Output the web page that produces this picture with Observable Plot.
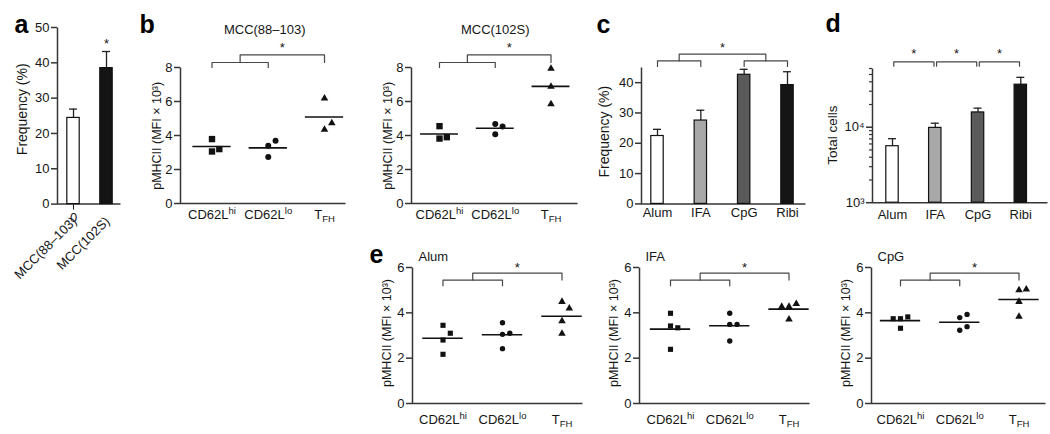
<!DOCTYPE html>
<html><head><meta charset="utf-8">
<script src="https://cdn.jsdelivr.net/npm/d3@7"></script>
<script src="https://cdn.jsdelivr.net/npm/@observablehq/plot@0.6"></script>
<style>
html,body{margin:0;padding:0;background:#fff;}
#fig{position:relative;width:1050px;height:434px;overflow:hidden;background:#fff;}
</style></head><body><div id="fig"></div>
<script>
// ---------------- DATA ----------------
const aCats = ["MCC(88–103)", "MCC(102S)"];
const aFreq = [24.4, 38.5];
const aErr  = [26.9, 43.2];
const aSig  = ["MCC(102S)"];
const aTicks = [0, 10, 20, 30, 40, 50];

const subsets = ["CD62L^hi", "CD62L^lo", "T_FH"];
const bTitles = ["MCC(88–103)", "MCC(102S)"];
const b1Hi  = [3.79, 3.06, 3.20];
const b1Lo  = [3.39, 2.74, 3.69];
const b1Tfh = [6.18, 4.35, 4.73];
const b2Hi  = [4.55, 3.82, 3.90];
const b2Lo  = [4.67, 4.08, 4.53];
const b2Tfh = [7.94, 6.88, 5.85];
const bTicks = [0, 2, 4, 6, 8];

const adjuvants = ["Alum", "IFA", "CpG", "Ribi"];
const cFreq = [22.4, 27.5, 42.6, 39.2];
const cErr  = [24.6, 30.9, 44.4, 43.6];
const cTicks = [0, 10, 20, 30, 40];
const dCells = [5600, 9800, 15700, 36600];
const dErr   = [7050, 11300, 17900, 45800];
const dMajor = [1000, 10000];
const dMinor = [2000, 3000, 4000, 5000, 6000, 7000, 8000, 9000, 20000, 30000, 40000, 50000, 60000];

const eTitles = ["Alum", "IFA", "CpG"];
const e1Hi  = [3.45, 3.10, 2.80, 2.17];
const e1Lo  = [3.56, 3.05, 2.42, 3.10];
const e1Tfh = [4.49, 4.20, 3.64, 3.08];
const e2Hi  = [3.98, 3.42, 3.34, 2.39];
const e2Lo  = [3.98, 3.49, 3.49, 2.76];
const e2Tfh = [4.27, 4.40, 4.27, 3.71];
const e3Hi  = [3.74, 3.82, 3.74, 3.32];
const e3Lo  = [3.79, 3.93, 3.23, 3.39];
const e3Tfh = [5.00, 5.04, 4.49, 3.83];
const eTicks = [0, 2, 4, 6];

// ---------------- STYLE / LAYOUT ----------------
const FONT = '"Liberation Sans", Arial, Helvetica, sans-serif';
const INK = "#161616", AXIS = "#363636", BRK = "#474747";
const aFills = ["#ffffff", "#141414"];
const adjFills = ["#ffffff", "#a8a8a8", "#5a5a5a", "#151515"];
const LAYOUT = {
  a:  {L: 57,  R: 120,  T: 26.7,  B: 203.3, centers: [73, 106]},
  b1: {L: 180, R: 345,  T: 66.7,  B: 202.7, centers: [211.5, 267.5, 324]},
  b2: {L: 411, R: 577,  T: 66.7,  B: 202.7, centers: [439, 495, 550.5]},
  c:  {L: 641, R: 805,  T: 66.6,  B: 203,   centers: [657, 700.5, 743.5, 787]},
  d:  {L: 872, R: 1047, T: 68.3,  B: 202.5, centers: [892, 935.3, 978.3, 1020.3]},
  e1: {L: 412, R: 582,  T: 266.7, B: 402.7, centers: [442.5, 501.7, 561.5]},
  e2: {L: 639, R: 809,  T: 266.7, B: 402.7, centers: [670, 729.5, 788.5]},
  e3: {L: 871, R: 1045, T: 266.7, B: 402.7, centers: [900, 959, 1018.5]}
};
const ML = 80, MR = 20, MT = 80, MB = 100;
const fig = document.getElementById("fig");

function richText(svg) {
  d3.select(svg).selectAll("text").each(function () {
    if (this.querySelector("tspan")) return;
    const s = this.textContent;
    const m = s.match(/^([^\^_]*)([\^_])(.+)$/);
    if (!m) return;
    const t = d3.select(this);
    t.text(null);
    t.append("tspan").text(m[1]);
    t.append("tspan").attr("dy", m[2] === "^" ? -5 : 3.5).attr("font-size", "9.5px").text(m[3]);
  });
}

function build(lay, yScale, marks) {
  const W = lay.R - lay.L, H = lay.B - lay.T;
  const sx = lay.L - ML, sy = lay.T - MT;
  const n = lay.centers.length;
  const svg = Plot.plot({
    width: ML + W + MR, height: MT + H + MB,
    marginLeft: ML, marginRight: MR, marginTop: MT, marginBottom: MB,
    x: {type: "linear", domain: [0, n - 1], range: [lay.centers[0] - sx, lay.centers[n - 1] - sx]},
    y: yScale,
    color: {type: "identity"},
    style: {background: "transparent", overflow: "visible", fontFamily: FONT, fontSize: "13px", color: INK},
    marks: [
      Plot.frame({stroke: AXIS, strokeWidth: 1.5, strokeDasharray: `0 ${W + H} ${W + H}`}),
      ...marks
    ]
  });
  richText(svg);
  svg.style.position = "absolute";
  svg.style.left = sx + "px";
  svg.style.top = sy + "px";
  svg.style.maxWidth = "none";
  fig.appendChild(svg);
}

function levelFn(lay, domain, log) {
  const H = lay.B - lay.T;
  if (log) {
    const l0 = Math.log10(domain[0]), l1 = Math.log10(domain[1]);
    return px => Math.pow(10, l1 + px * (l1 - l0) / H);
  }
  return px => domain[1] + px * (domain[1] - domain[0]) / H;
}
const stepOf = lay => (lay.centers[lay.centers.length - 1] - lay.centers[0]) / (lay.centers.length - 1);

const yAxis = (ticks, fmt) => Plot.axisY(ticks, {tickSize: 6, tickPadding: 2, label: null, stroke: AXIS, strokeWidth: 1.5, fill: INK, fontSize: 13, ...(fmt ? {tickFormat: fmt} : {})});
const xAxis = (cats, pad) => Plot.axisX(d3.range(cats.length), {tickSize: 0, tickPadding: pad, label: null, fill: INK, fontSize: 13, tickFormat: i => cats[i]});
const yLabel = (s, dx, dy, fs = 13) => Plot.text([s], {text: d => d, frameAnchor: "left", textAnchor: "middle", lineAnchor: "middle", rotate: -90, dx, dy, fill: INK, fontSize: fs});
const letter = (s, dx, dy) => Plot.text([s], {text: d => d, frameAnchor: "top-left", textAnchor: "start", lineAnchor: "bottom", dx, dy, fill: "#000", fontSize: 25, fontWeight: "bold"});
const title = (s, o) => Plot.text([s], {text: d => d, lineAnchor: "bottom", fill: INK, fontSize: 13, ...o});

function barMarks(vals, errs, fills, lay, yMin, barPx) {
  const step = stepOf(lay);
  const hw = barPx / 2 / step, cw = 4 / step;
  const idx = d3.range(vals.length);
  return [
    Plot.ruleX(idx, {x: i => i, y1: i => vals[i], y2: i => errs[i], stroke: "#222", strokeWidth: 1.3}),
    Plot.ruleY(idx, {y: i => errs[i], x1: i => i - cw, x2: i => i + cw, stroke: "#222", strokeWidth: 1.3}),
    Plot.rectY(idx, {x1: i => i - hw, x2: i => i + hw, y1: yMin, y2: i => vals[i], fill: i => fills[i], stroke: "#111", strokeWidth: 1.2})
  ];
}

function scatterMarks(groups, lay, domain, sizes) {
  const step = stepOf(lay);
  const H = lay.B - lay.T;
  const upp = (domain[1] - domain[0]) / H;
  const jit = 7.3 / step, thr = 8.5 * upp;
  const syms = ["square", "circle", "triangle"];
  const marks = [];
  groups.forEach((vals, k) => {
    const placed = [];
    const pts = vals.map(v => {
      let off = 0;
      for (const o of [0, 1, -1, 2, -2]) {
        if (!placed.some(p => p.o === o && Math.abs(p.v - v) < thr)) { off = o; break; }
      }
      placed.push({v, o: off});
      return {x: k + off * jit, y: v};
    });
    marks.push(Plot.ruleY([d3.mean(vals)], {y: d => d, x1: k - 0.34, x2: k + 0.34, stroke: "#111", strokeWidth: 1.6}));
    marks.push(Plot.dot(pts, {x: "x", y: "y", symbol: syms[k], r: sizes[k], fill: "#111", stroke: "none"}));
  });
  return marks;
}

function bracketMarks(segs, stars) {
  const pts = segs.flatMap((s, g) => s.map(([x, y]) => ({x, y, g})));
  return [
    Plot.line(pts, {x: "x", y: "y", z: "g", stroke: BRK, strokeWidth: 1.2}),
    Plot.text(stars, {x: "x", y: "y", text: () => "*", fill: INK, fontSize: 13})
  ];
}
function twoVsOne(lvl, P) {
  const [L0, L1, L2, S] = P.map(lvl);
  return bracketMarks([
    [[0, L0], [0, L1], [1, L1], [1, L0]],
    [[0.5, L1], [0.5, L2], [2, L2], [2, L1]]
  ], [{x: 1.25, y: S}]);
}

// ---------------- PANEL a ----------------
{
  const lay = LAYOUT.a, dom = [0, 50];
  const upp = (dom[1] - dom[0]) / (lay.B - lay.T);
  const sigIdx = d3.range(aCats.length).filter(i => aSig.includes(aCats[i]));
  build(lay, {domain: dom}, [
    yAxis(aTicks),
    ...barMarks(aFreq, aErr, aFills, lay, 0, 12.4),
    Plot.text(d3.range(aCats.length), {x: i => i, text: i => aCats[i], frameAnchor: "bottom", rotate: -45, textAnchor: "end", lineAnchor: "bottom", dx: 4, dy: 18, fill: INK, fontSize: 13}),
    Plot.text(sigIdx, {x: i => i, y: i => aErr[i] + 7.4 * upp, text: () => "*", fill: INK, fontSize: 13}),
    yLabel("Frequency (%)", -34.5, -6.5, 14),
    letter("a", -43, 5.3)
  ]);
}

// ---------------- PANEL b ----------------
[[LAYOUT.b1, [b1Hi, b1Lo, b1Tfh], bTitles[0], true], [LAYOUT.b2, [b2Hi, b2Lo, b2Tfh], bTitles[1], false]].forEach(([lay, groups, ttl, first]) => {
  const dom = [0, 8];
  const lvl = levelFn(lay, dom, false);
  const W = lay.R - lay.L;
  build(lay, {domain: dom}, [
    yAxis(bTicks),
    xAxis(subsets, 6),
    ...scatterMarks(groups, lay, dom, [3.6, 3.0, 2.8]),
    ...twoVsOne(lvl, [0, 5, 12.7, 19.4]),
    yLabel("pMHCII (MFI × 10³)", -23.5, 0.3, 12.5),
    title(ttl, {frameAnchor: "top", dx: (lay.centers[0] + lay.centers[2]) / 2 - (lay.L + W / 2) + (first ? -3.5 : 0), dy: -33.7}),
    ...(first ? [letter("b", -41, -34.7)] : [])
  ]);
});

// ---------------- PANEL c ----------------
{
  const lay = LAYOUT.c, dom = [0, 45];
  const lvl = levelFn(lay, dom, false);
  const [L0, L1, L2, S] = [1, 6.6, 13.3, 20].map(lvl);
  build(lay, {domain: dom}, [
    yAxis(cTicks),
    xAxis(adjuvants, 4),
    ...barMarks(cFreq, cErr, adjFills, lay, 0, 12.4),
    ...bracketMarks([
      [[0, L0], [0, L1], [1, L1], [1, L0]],
      [[2, L0], [2, L1], [3, L1], [3, L0]],
      [[0.5, L1], [0.5, L2], [2.5, L2], [2.5, L1]]
    ], [{x: 1.5, y: S}]),
    yLabel("Frequency (%)", -37, -4, 14),
    letter("c", -45, -34.6)
  ]);
}

// ---------------- PANEL d ----------------
{
  const lay = LAYOUT.d, dom = [1000, 60000];
  const lvl = levelFn(lay, dom, true);
  const [L0, L1, S] = [2.3, 6.6, 15].map(lvl);
  const segs = [], stars = [];
  for (let i = 0; i < adjuvants.length - 1; i++) {
    segs.push([[i + 0.03, L0], [i + 0.03, L1], [i + 0.97, L1], [i + 0.97, L0]]);
    stars.push({x: i + 0.5, y: S});
  }
  const sup = {1000: "10³", 10000: "10⁴"};
  build(lay, {type: "log", domain: dom}, [
    Plot.axisY(dMinor, {tickSize: 3, tickPadding: 2, label: null, stroke: AXIS, strokeWidth: 1.2, tickFormat: () => ""}),
    yAxis(dMajor, d => sup[d]),
    xAxis(adjuvants, 7),
    ...barMarks(dCells, dErr, adjFills, lay, 1000, 12.4),
    ...bracketMarks(segs, stars),
    yLabel("Total cells", -39.5, -0.4, 13.5),
    letter("d", -47, -36.3)
  ]);
}

// ---------------- PANEL e ----------------
[[LAYOUT.e1, [e1Hi, e1Lo, e1Tfh], eTitles[0], true], [LAYOUT.e2, [e2Hi, e2Lo, e2Tfh], eTitles[1], false], [LAYOUT.e3, [e3Hi, e3Lo, e3Tfh], eTitles[2], false]].forEach(([lay, groups, ttl, first]) => {
  const dom = [0, 6];
  const lvl = levelFn(lay, dom, false);
  build(lay, {domain: dom}, [
    yAxis(eTicks),
    xAxis(subsets, 11),
    ...scatterMarks(groups, lay, dom, [2.9, 2.7, 2.8]),
    ...twoVsOne(lvl, [-18.3, -12.6, -5.6, 0.1]),
    yLabel("pMHCII (MFI × 10³)", -26, -2.5, 12.5),
    title(ttl, {frameAnchor: "top-left", textAnchor: "start", dx: 6, dy: -6.7}),
    ...(first ? [letter("e", -43, -4.7)] : [])
  ]);
});
</script>
</body></html>
